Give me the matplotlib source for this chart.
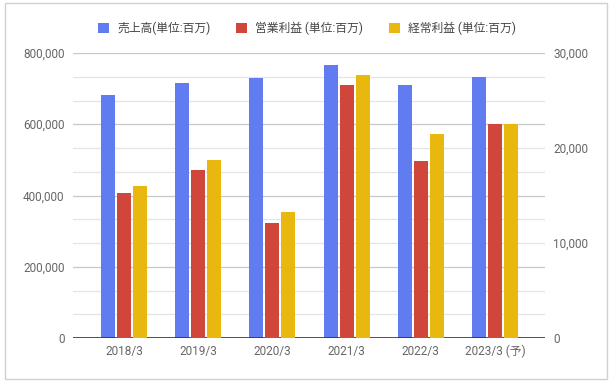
import numpy as np
import matplotlib.pyplot as plt
from matplotlib.patches import Rectangle

plt.rcParams['font.family'] = ['Roboto', 'Noto Sans CJK JP', 'DejaVu Sans']

categories = ['2018/3', '2019/3', '2020/3', '2021/3', '2022/3', '2023/3 (予)']
sales = [682000, 715000, 729000, 766000, 710000, 732000]
op_profit = [15300, 17700, 12100, 26600, 18600, 22500]
ord_profit = [16000, 18750, 13300, 27700, 21500, 22500]
labels = ['売上高(単位:百万)', '営業利益 (単位:百万)', '経常利益 (単位:百万)']
colors = ['#617bf0', '#d0463b', '#e9b80f']

fig = plt.figure(figsize=(6.14, 3.81), dpi=100)
ax = fig.add_axes([73 / 614, 1 - 338 / 381, 472 / 614, 285 / 381])
ax2 = ax.twinx()

x = np.arange(len(categories))
w = 0.19
step = 0.216
ax.bar(x - step, sales, w, color=colors[0], label=labels[0], zorder=3)
ax2.bar(x, op_profit, w, color=colors[1], label=labels[1], zorder=3)
ax2.bar(x + step, ord_profit, w, color=colors[2], label=labels[2], zorder=3)

ax.set_xlim(-0.687, 5.674)
ax.set_ylim(0, 800000)
ax2.set_ylim(0, 30000)

# grid lines every 1/12 of the height
for k in range(1, 13):
    c = '#c8c8c8' if k % 3 == 0 else '#e4e4e4'
    ax.axhline(800000 * k / 12, color=c, lw=0.9, zorder=0)
ax.axhline(0, color='#333333', lw=1.2, zorder=4)

ax.set_yticks([0, 200000, 400000, 600000, 800000])
ax.set_yticklabels(['0', '200,000', '400,000', '600,000', '800,000'])
ax2.set_yticks([0, 10000, 20000, 30000])
ax2.set_yticklabels(['0', '10,000', '20,000', '30,000'])
ax.set_xticks(x)
ax.set_xticklabels(categories)

for a in (ax, ax2):
    for s in a.spines.values():
        s.set_visible(False)
    a.tick_params(length=0, labelsize=8.5, labelcolor='#666666')
ax.tick_params(axis='y', pad=6)
ax2.tick_params(axis='y', pad=6)
ax.tick_params(axis='x', pad=5)

h1, l1 = ax.get_legend_handles_labels()
h2, l2 = ax2.get_legend_handles_labels()
fig.legend(h1 + h2, l1 + l2, loc='center', bbox_to_anchor=(0.5, 1 - 28 / 381),
           ncol=3, frameon=False, fontsize=8.5, handlelength=0.9, handleheight=0.9,
           handletextpad=0.7, columnspacing=2.2, labelcolor='#444444')

fig.patches.append(Rectangle((5 / 614, 2 / 381), 602 / 614, 376 / 381, transform=fig.transFigure,
                             fill=False, edgecolor='#d0d0d0', lw=1))

fig.savefig('out.png', dpi=100)
